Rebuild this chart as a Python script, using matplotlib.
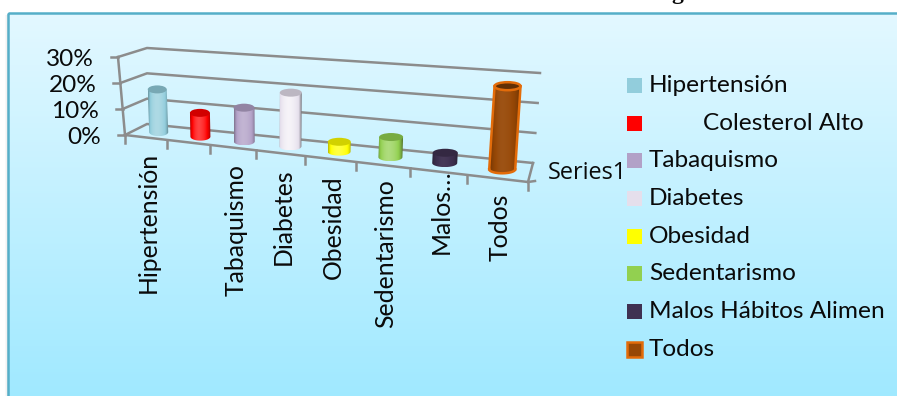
#!/usr/bin/env python
import numpy as np
import matplotlib
matplotlib.use('Agg')
import matplotlib.pyplot as plt
from matplotlib.patches import Rectangle, Polygon, Ellipse

plt.rcParams['font.family'] = ['Lato', 'DejaVu Sans']

W, H = 897, 396

categories = ['Hipertensión', 'Colesterol Alto', 'Tabaquismo', 'Diabetes',
              'Obesidad', 'Sedentarismo', 'Malos Hábitos Alimen', 'Todos']
tick_labels = ['Hipertensión', '', 'Tabaquismo', 'Diabetes',
               'Obesidad', 'Sedentarismo', 'Malos…', 'Todos']
values = [16.5, 9, 12.5, 19.5, 3.5, 7, 3.5, 27.5]
y_ticks = [0, 10, 20, 30]
colors = ['#92CDDC', '#FF0000', '#B2A1C7', '#E5DFEC',
          '#FFFF00', '#92D050', '#3F3151', '#974806']
edges = [None, None, None, None, None, None, None, '#E36C0A']
highlight = [0.3, 0.3, 0.25, 0.7, 0.3, 0.3, 0.08, 0.1]
label_top = [152, 0, 164, 168, 175, 179, 169, 194]
series_name = 'Series1'

VMAX = 30.0
N = len(categories)
FS = 17.6
TXT = '#0A0A0A'

# corners of the front and back planes of the 3d box: (u, v) -> pixels
front = {'bl': (125, 135), 'br': (528, 182), 'tl': (118, 57), 'tr': (534, 88)}
back = {'bl': (147, 124), 'br': (533, 163), 'tl': (147, 48), 'tr': (540, 73)}


def persp(u):
    # foreshortening along the category axis
    t = u / N
    return 0.807 * t / (1 - 0.193 * t)


def proj(u, v, d):
    s = persp(u)
    r = v / VMAX
    out = []
    for plane in (front, back):
        b = np.array(plane['bl']) * (1 - s) + np.array(plane['br']) * s
        t = np.array(plane['tl']) * (1 - s) + np.array(plane['tr']) * s
        out.append(b * (1 - r) + t * r)
    return out[0] * (1 - d) + out[1] * d


def shade(c, f):
    rgb = np.array(matplotlib.colors.to_rgb(c))
    if f < 0:
        return rgb * (1 + f)
    return rgb + (1 - rgb) * f


fig = plt.figure(figsize=(W / 100, H / 100), dpi=100)
ax = fig.add_axes([0, 0, 1, 1])
ax.set_xlim(0, W)
ax.set_ylim(H, 0)
ax.axis('off')

# panel background with a faint shadow on its left side
for k, a in enumerate([0.05, 0.1, 0.16]):
    ax.add_patch(Rectangle((5 + k, 15), 1, H, fc='#888888', ec='none', alpha=a, zorder=0))
grad = np.linspace(0, 1, 256)[:, None, None]
top_c = np.array(matplotlib.colors.to_rgb('#E3F8FF'))[None, None, :]
bot_c = np.array(matplotlib.colors.to_rgb('#A0E9FF'))[None, None, :]
ax.imshow(top_c * (1 - grad) + bot_c * grad, extent=(8, W + 2, H + 2, 13),
          aspect='auto', zorder=0.5)
ax.set_xlim(0, W)
ax.set_ylim(H, 0)
ax.add_patch(Rectangle((8, 13), W, H, fill=False, ec='#55AEC8', lw=1.8, zorder=1))

ax.text(677, -6.5, 'g', fontsize=17, fontweight='bold', color=TXT,
        family='Liberation Serif', ha='center', va='center', zorder=1)

# gridlines and box edges
GRID = '#8C8C8C'
LW = 1.8
for v in y_ticks:
    a, b, c = proj(0, v, 0), proj(0, v, 1), proj(N, v, 1)
    ax.plot([a[0], b[0], c[0]], [a[1], b[1], c[1]], color=GRID, lw=LW, zorder=2,
            solid_joinstyle='miter')
    ax.plot([a[0] - 7, a[0]], [a[1], a[1]], color=GRID, lw=LW, zorder=2)
    ax.text(a[0] - 24, a[1] + 2.5, '%d%%' % v, fontsize=FS, color=TXT,
            ha='right', va='center', zorder=5)
a, b = proj(0, 0, 0), proj(0, VMAX, 0)
ax.plot([a[0], b[0]], [a[1], b[1]], color=GRID, lw=LW, zorder=2)
a, b, c = proj(0, 0, 0), proj(N, 0, 0), proj(N, 0, 1)
ax.plot([a[0], b[0], c[0]], [a[1], b[1], c[1]], color=GRID, lw=LW, zorder=2)

# category ticks
for i in range(N + 1):
    p = proj(i, 0, 0)
    ax.plot([p[0], p[0]], [p[1], p[1] + 8], color=GRID, lw=LW, zorder=2)
p = proj(N, 0, 0)
ax.plot([p[0], p[0] + 7], [p[1], p[1] - 1], color=GRID, lw=LW, zorder=2)

# cylinders: horizontal shading clipped to body plus the lower half of the base
for i, (val, col, ec, hl) in enumerate(zip(values, colors, edges, highlight)):
    bot = proj(i + 0.5, 0, 0.55) + np.array([1.5, 1.0])
    top = proj(i + 0.5, val, 0.55) + np.array([1.5, 1.0])
    rx = 9.5 + 0.5 * i
    ry = 4.0
    th = np.linspace(0, np.pi, 30)
    base = np.column_stack([bot[0] + rx * np.cos(th), bot[1] + ry * np.sin(th)])
    outline = np.vstack([[(top[0] + rx, top[1])], base, [(top[0] - rx, top[1])]])
    body = Polygon(outline, closed=True, fc='none', ec='none', zorder=3)
    ax.add_patch(body)
    xs = np.linspace(-1, 1, 64)
    prof = hl * (1 - np.abs(xs + 0.15) ** 1.5) - 0.3 * np.abs(xs) ** 4 - 0.04
    strip = np.array([shade(col, f) for f in prof])[None, :, :]
    x0 = min(bot[0], top[0]) - rx
    x1 = max(bot[0], top[0]) + rx
    im = ax.imshow(strip, extent=(x0, x1, bot[1] + ry, top[1]), aspect='auto', zorder=3.1)
    im.set_clip_path(body)
    ax.set_xlim(0, W)
    ax.set_ylim(H, 0)
    if ec:
        ax.plot(outline[1:-1, 0], outline[1:-1, 1], color=ec, lw=1.8, zorder=3.3)
        ax.plot([bot[0] - rx, top[0] - rx], [bot[1], top[1]], color=ec, lw=1.8, zorder=3.3)
        ax.plot([bot[0] + rx, top[0] + rx], [bot[1], top[1]], color=ec, lw=1.8, zorder=3.3)
        ax.add_patch(Ellipse(top, 2 * rx, 2 * ry, fc=shade(col, -0.35), ec=ec, lw=1.8, zorder=3.4))
    else:
        ax.add_patch(Ellipse(top, 2 * rx, 2 * ry, fc=shade(col, -0.18), ec='none', zorder=3.4))

# rotated category labels under the front edge
for i, lab in enumerate(tick_labels):
    if not lab:
        continue
    p = proj(i + 0.5, 0, 0)
    ax.text(p[0] + 3, label_top[i], lab, rotation=90, fontsize=17.8, color=TXT,
            ha='center', va='top', zorder=5)

ax.text(548, 173, series_name, fontsize=16.9, family='Open Sans', color=TXT,
        va='center', zorder=5)

# legend
row_y = np.linspace(85.5, 349, N)
for i, (name, col, ec) in enumerate(zip(categories, colors, edges)):
    y = row_y[i]
    ax.add_patch(Rectangle((627, y - 7.5), 15, 15, fc=col, ec=ec or 'none',
                           lw=1.8 if ec else 0, zorder=5))
    x = 703 if i == 1 else 649
    ax.text(x, y, name, fontsize=FS, color=TXT, va='center', zorder=5)

fig.savefig('out.png', dpi=100)
